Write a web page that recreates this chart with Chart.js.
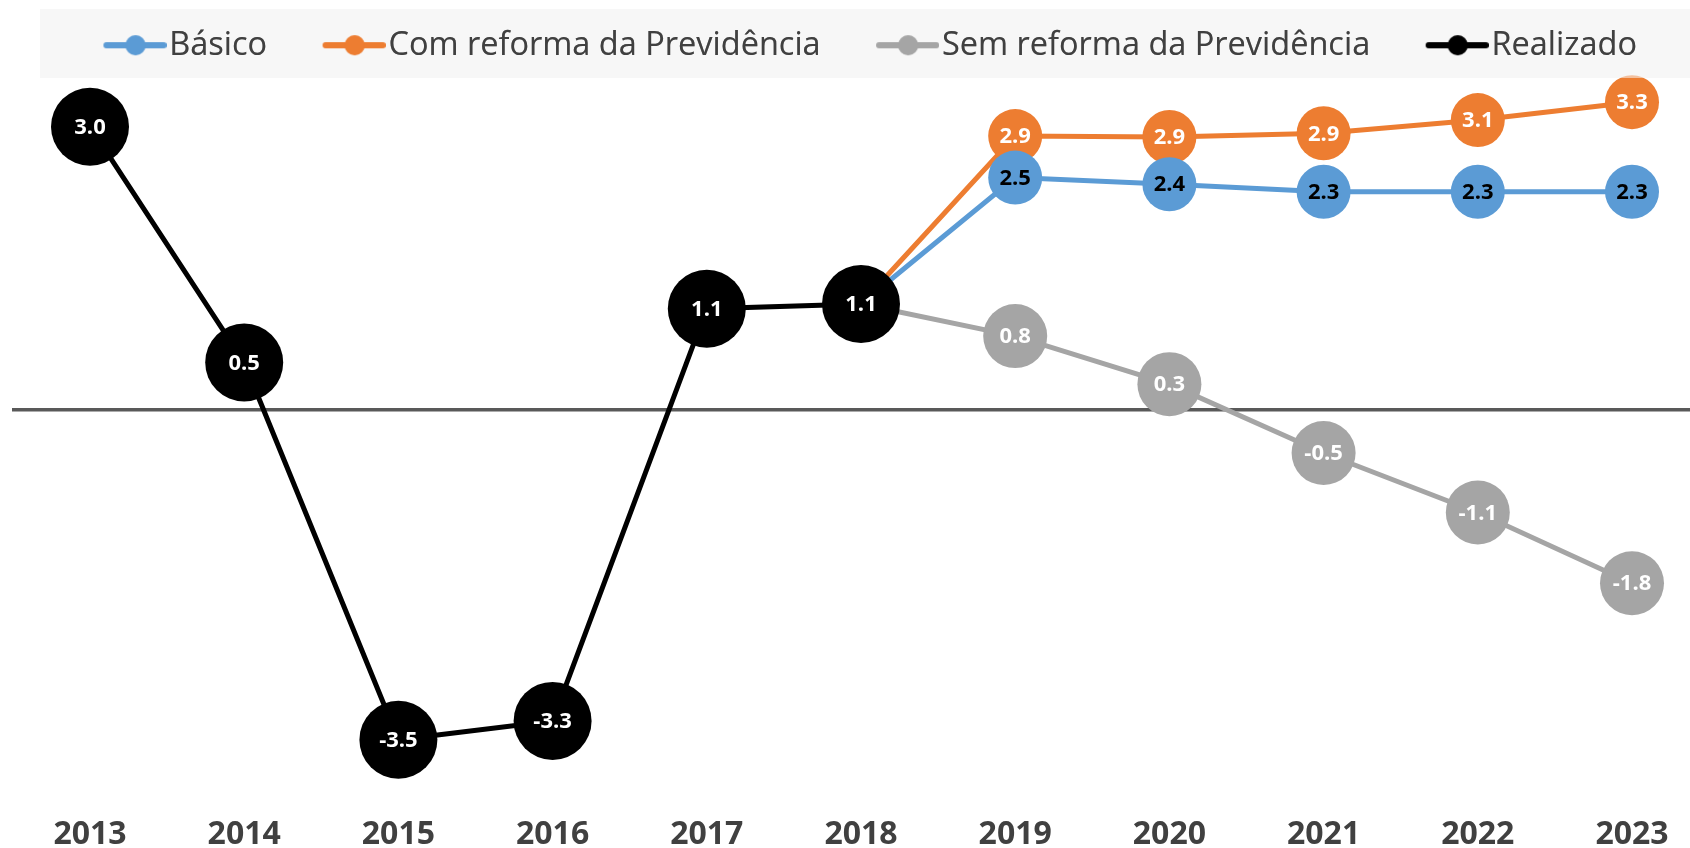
<!DOCTYPE html>
<html>
<head>
<meta charset="utf-8">
<script src="https://cdn.jsdelivr.net/npm/chart.js@4"></script>
<style>
html, body { margin: 0; padding: 0; background: #ffffff; }
canvas { display: block; }
</style>
</head>
<body>
<canvas id="c" width="1690" height="848"></canvas>
<script>
// ---- data ----
const years = ['2013', '2014', '2015', '2016', '2017', '2018', '2019', '2020', '2021', '2022', '2023'];
const realizado  = [3.0, 0.5, -3.5, -3.3, 1.07, 1.12, null, null, null, null, null];
const basico     = [null, null, null, null, null, 1.12, 2.46, 2.39, 2.31, 2.31, 2.31];
const comReforma = [null, null, null, null, null, 1.12, 2.90, 2.89, 2.93, 3.07, 3.26];
const semReforma = [null, null, null, null, null, 1.12, 0.78, 0.27, -0.46, -1.09, -1.84];
const seriesNames = ['Básico', 'Com reforma da Previdência', 'Sem reforma da Previdência', 'Realizado'];
const seriesData = [basico, comReforma, semReforma, realizado];
const colors = ['#5B9BD5', '#ED7D31', '#A5A5A5', '#000000'];
const labelColors = ['#000000', '#FFFFFF', '#FFFFFF', '#FFFFFF'];
const radii = [27, 27, 32, 39];
const drawOrder = [2, 3, 1, 0]; // Chart.js "order": lower = on top
const yMin = -4.34, yMax = 3.585;

const FONT = '"Open Sans", "Noto Sans", sans-serif';
const BOX_W = 87;

// legend marker images: line with a dot
function makeMarker(color) {
  const W = BOX_W + 27, H = 26;
  const cv = document.createElement('canvas');
  cv.width = W; cv.height = H;
  const g = cv.getContext('2d');
  g.strokeStyle = color; g.lineWidth = 6; g.lineCap = 'round';
  g.beginPath(); g.moveTo(W - 60, H / 2); g.lineTo(W - 3, H / 2); g.stroke();
  g.fillStyle = color;
  g.beginPath(); g.arc(W - 31, H / 2, 10, 0, Math.PI * 2); g.fill();
  return cv;
}
const markers = colors.map(makeMarker);

const datasets = seriesData.map((d, i) => ({
  label: seriesNames[i],
  data: d,
  borderColor: colors[i],
  backgroundColor: colors[i],
  borderWidth: 5,
  pointBackgroundColor: colors[i],
  pointBorderColor: colors[i],
  pointBorderWidth: 0,
  pointRadius: (ctx) => (i !== 3 && realizado[ctx.dataIndex] != null) ? 0 : radii[i],
  pointHoverRadius: radii[i],
  tension: 0,
  fill: false,
  clip: false,
  order: drawOrder[i]
}));

const legendBg = {
  id: 'legendBg',
  beforeDraw(chart) {
    const c = chart.ctx;
    c.save();
    c.fillStyle = '#F7F7F7';
    c.fillRect(40, 9, chart.width - 40, 69);
    c.restore();
  },
  afterDatasetsDraw(chart) {
    const c = chart.ctx;
    c.save();
    c.fillStyle = 'rgba(247,247,247,0.55)';
    c.fillRect(40, 9, chart.width - 40, 69);
    c.restore();
    chart.legend.draw();
  }
};

const zeroLine = {
  id: 'zeroLine',
  beforeDatasetsDraw(chart) {
    const c = chart.ctx;
    const y = chart.scales.y.getPixelForValue(0);
    c.save();
    c.strokeStyle = '#595959';
    c.lineWidth = 3.5;
    c.beginPath();
    c.moveTo(12, y);
    c.lineTo(chart.width, y);
    c.stroke();
    c.restore();
  }
};

const dataLabels = {
  id: 'dataLabels',
  afterDatasetsDraw(chart) {
    const c = chart.ctx;
    c.save();
    c.font = 'bold 22px ' + FONT;
    c.textAlign = 'center';
    c.textBaseline = 'middle';
    [2, 0, 1, 3].forEach((di) => {
      const meta = chart.getDatasetMeta(di);
      const d = chart.data.datasets[di].data;
      meta.data.forEach((pt, idx) => {
        const v = d[idx];
        if (v == null) return;
        if (di !== 3 && realizado[idx] != null) return;
        c.fillStyle = labelColors[di];
        c.fillText(v.toFixed(1), pt.x, pt.y + 1);
      });
    });
    c.restore();
  }
};

new Chart(document.getElementById('c'), {
  type: 'line',
  data: { labels: years, datasets },
  options: {
    responsive: false,
    animation: false,
    devicePixelRatio: 1,
    layout: { autoPadding: false, padding: { top: 11, left: 13, right: 0, bottom: 0 } },
    plugins: {
      tooltip: { enabled: false },
      legend: {
        position: 'top',
        labels: {
          usePointStyle: true,
          pointStyleWidth: BOX_W,
          padding: 18,
          color: '#404040',
          font: { family: FONT, size: 32.5 },
          generateLabels: (chart) => chart.data.datasets.map((ds, i) => ({
            text: ds.label,
            pointStyle: markers[i],
            fillStyle: colors[i],
            strokeStyle: colors[i],
            lineWidth: 0,
            hidden: false,
            datasetIndex: i,
            fontColor: '#404040'
          }))
        }
      }
    },
    scales: {
      x: {
        type: 'category',
        offset: false,
        grid: { display: false, drawTicks: false },
        border: { display: false },
        ticks: {
          padding: 0,
          color: '#404040',
          autoSkip: false,
          maxRotation: 0,
          font: { family: FONT, size: 32, weight: 'bold', lineHeight: 1 }
        },
        afterFit: (s) => { s.height = 29; }
      },
      y: {
        position: 'left',
        min: yMin,
        max: yMax,
        grid: { display: false, drawTicks: false },
        border: { display: false },
        ticks: { display: false },
        afterFit: (s) => { s.width = 77; }
      },
      yRight: {
        type: 'linear',
        position: 'right',
        grid: { display: false, drawTicks: false },
        border: { display: false },
        ticks: { display: false },
        afterFit: (s) => { s.width = 58; }
      }
    }
  },
  plugins: [legendBg, zeroLine, dataLabels]
});
</script>
</body>
</html>
